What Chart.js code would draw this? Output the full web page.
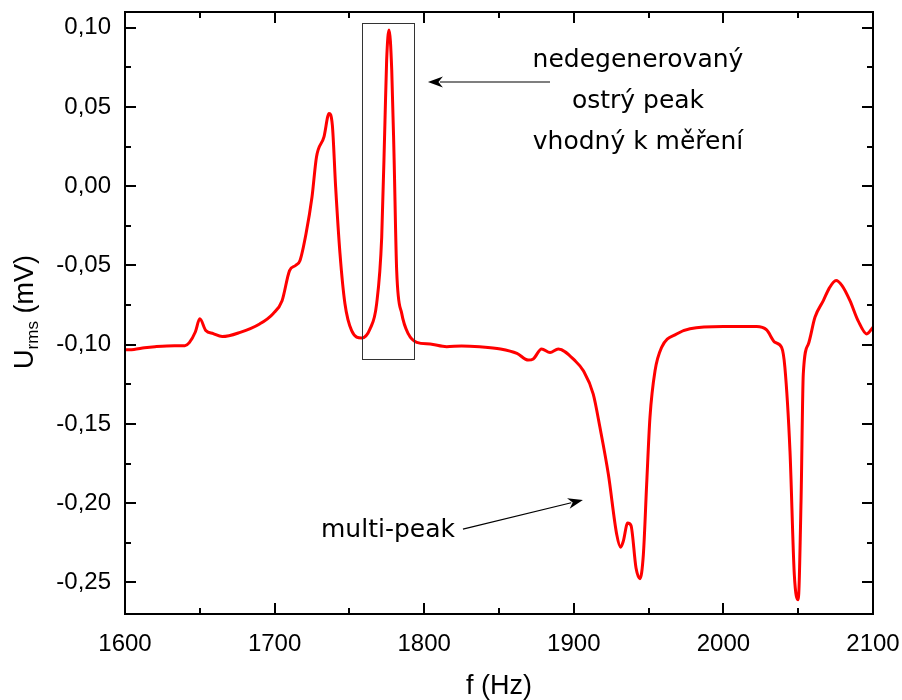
<!DOCTYPE html>
<html>
<head>
<meta charset="utf-8">
<script src="https://cdn.jsdelivr.net/npm/chart.js@4/dist/chart.umd.min.js"></script>
<style>
    body { margin: 0; background: #fff; }
    canvas { display: block; }
</style>
</head>
<body>
<canvas id="resonanceChart" width="902" height="700"></canvas>
<script>
// frekvence (Hz) a napeti U_rms (mV)
const freq = [1600, 1606, 1613, 1620, 1633, 1640, 1643, 1647, 1650, 1654, 1659, 1665, 1677, 1690, 1699, 1705,
    1710, 1714, 1717, 1721, 1725, 1728, 1733, 1736.4, 1738.6, 1740.8, 1743.7, 1747, 1751.5, 1758.2, 1763.8,
    1768.2, 1771.6, 1773.8, 1774.9, 1776.5, 1778.3, 1779.8, 1781.6, 1785, 1789.4, 1795, 1804, 1815, 1825,
    1837, 1851, 1862, 1869.6, 1872.9, 1878.5, 1884.1, 1889.6, 1900.8, 1906.4, 1913, 1917.5, 1923.1, 1928.7,
    1931.3, 1933.1, 1936, 1938.2, 1941.6, 1944.2, 1946.5, 1948.7, 1950.9, 1954.3, 1958.7, 1968.7, 1977.7,
    2000, 2022.2, 2028.9, 2034.4, 2038.9, 2041.1, 2044.5, 2047.4, 2050, 2051.9, 2053.4, 2056.8, 2061.2,
    2066.8, 2070.6, 2075.3, 2079.3, 2084.6, 2090, 2095.8, 2100];
const urms = [-0.1032, -0.1030, -0.1020, -0.1013, -0.1006, -0.1006, -0.0987, -0.0920, -0.0837, -0.0910,
    -0.0930, -0.0949, -0.0922, -0.0869, -0.0804, -0.0722, -0.0532, -0.0500, -0.0468, -0.0300, -0.0068,
    0.0185, 0.0312, 0.0460, 0.0386, -0.0004, -0.0424, -0.0740, -0.0911, -0.0958, -0.0900, -0.0742, -0.0321,
    0.0418, 0.0797, 0.0987, 0.0734, 0.0209, -0.0532, -0.0804, -0.0932, -0.0985, -0.0996, -0.1013, -0.1008,
    -0.1013, -0.1027, -0.1055, -0.1097, -0.1090, -0.1027, -0.1049, -0.1027, -0.1101, -0.1165, -0.1312,
    -0.1523, -0.1818, -0.2198, -0.2278, -0.2240, -0.2125, -0.2140, -0.2410, -0.2477, -0.2325, -0.1882,
    -0.1460, -0.1165, -0.1017, -0.0932, -0.0900, -0.0886, -0.0886, -0.0907, -0.0985, -0.1017, -0.1143,
    -0.1670, -0.2451, -0.2610, -0.1987, -0.1185, -0.0996, -0.0827, -0.0722, -0.0646, -0.0595, -0.0627,
    -0.0722, -0.0848, -0.0932, -0.0890];

const xMajorTicks = [1600, 1700, 1800, 1900, 2000, 2100];
const xMinorTicks = [1650, 1750, 1850, 1950, 2050];
const yMajorTicks = [-0.25, -0.20, -0.15, -0.10, -0.05, 0.00, 0.05, 0.10];
const yMinorTicks = [-0.225, -0.175, -0.125, -0.075, -0.025, 0.025, 0.075];

const xTitle = 'f (Hz)';
const yTitle = ['U', 'rms', ' (mV)'];

// popisky v grafu (souradnice v jednotkach os)
const boxRange = { x1: 1758.4, x2: 1793.2, y1: -0.1091, y2: 0.1030 };
const noteLines = ['nedegenerovaný', 'ostrý peak', 'vhodný k měření'];
const noteAnchor = { x: 1942.9, y: 0.0753 };
const noteArrow = { from: [1884.1, 0.0658], to: [1802.5, 0.0658] };
const multiLabel = 'multi-peak';
const multiAnchor = { x: 1775.8, y: -0.2213 };
const multiArrow = { from: [1825.9, -0.2164], to: [1906.1, -0.1980] };

const sansFamily = '"Liberation Sans", Arial, sans-serif';

function drawArrow(ctx, x1, y1, x2, y2) {
    const ang = Math.atan2(y2 - y1, x2 - x1);
    const len = 15, half = 5.5;
    const c = Math.cos(ang), s = Math.sin(ang);
    ctx.beginPath();
    ctx.moveTo(x1, y1);
    ctx.lineTo(x2 - c * len * 0.8, y2 - s * len * 0.8);
    ctx.stroke();
    ctx.beginPath();
    ctx.moveTo(x2, y2);
    ctx.lineTo(x2 - c * len - s * half, y2 - s * len + c * half);
    ctx.lineTo(x2 - c * len * 0.7, y2 - s * len * 0.7);
    ctx.lineTo(x2 - c * len + s * half, y2 - s * len - c * half);
    ctx.closePath();
    ctx.fill();
}

const framePlugin = {
    id: 'frame',
    afterDraw(chart) {
        const { ctx, chartArea: a, scales: { x, y } } = chart;
        ctx.save();

        // ramecek a ticky na vsech ctyrech stranach (dovnitr)
        ctx.strokeStyle = '#000';
        ctx.lineWidth = 2;
        ctx.strokeRect(a.left, a.top, a.right - a.left, a.bottom - a.top);
        const tickX = (vals, len) => {
            vals.forEach((v) => {
                const px = Math.round(x.getPixelForValue(v));
                ctx.beginPath();
                ctx.moveTo(px, a.bottom); ctx.lineTo(px, a.bottom - len);
                ctx.moveTo(px, a.top); ctx.lineTo(px, a.top + len);
                ctx.stroke();
            });
        };
        const tickY = (vals, len) => {
            vals.forEach((v) => {
                const py = Math.round(y.getPixelForValue(v));
                ctx.beginPath();
                ctx.moveTo(a.left, py); ctx.lineTo(a.left + len, py);
                ctx.moveTo(a.right, py); ctx.lineTo(a.right - len, py);
                ctx.stroke();
            });
        };
        tickX(xMajorTicks, 11); tickX(xMinorTicks, 6);
        tickY(yMajorTicks, 11); tickY(yMinorTicks, 6);

        // obdelnik kolem ostreho piku
        ctx.strokeStyle = '#333';
        ctx.lineWidth = 1;
        const bx1 = x.getPixelForValue(boxRange.x1), bx2 = x.getPixelForValue(boxRange.x2);
        const by1 = y.getPixelForValue(boxRange.y2), by2 = y.getPixelForValue(boxRange.y1);
        ctx.strokeRect(Math.round(bx1) + 0.5, Math.round(by1) + 0.5, Math.round(bx2 - bx1), Math.round(by2 - by1));

        // sipky
        ctx.strokeStyle = '#000';
        ctx.fillStyle = '#000';
        ctx.lineWidth = 1.2;
        drawArrow(ctx, x.getPixelForValue(noteArrow.from[0]), y.getPixelForValue(noteArrow.from[1]),
            x.getPixelForValue(noteArrow.to[0]), y.getPixelForValue(noteArrow.to[1]));
        drawArrow(ctx, x.getPixelForValue(multiArrow.from[0]), y.getPixelForValue(multiArrow.from[1]),
            x.getPixelForValue(multiArrow.to[0]), y.getPixelForValue(multiArrow.to[1]));

        // texty
        ctx.font = '25px "DejaVu Sans", sans-serif';
        ctx.textAlign = 'center';
        ctx.textBaseline = 'alphabetic';
        const nx = x.getPixelForValue(noteAnchor.x), ny = y.getPixelForValue(noteAnchor.y);
        noteLines.forEach((t, i) => ctx.fillText(t, nx, ny + i * 41));
        ctx.fillText(multiLabel, x.getPixelForValue(multiAnchor.x), y.getPixelForValue(multiAnchor.y));

        // popisky os
        ctx.font = '27px ' + sansFamily;
        ctx.fillText(xTitle, (a.left + a.right) / 2, 694);

        ctx.translate(33, 312);
        ctx.rotate(-Math.PI / 2);
        const w0 = ctx.measureText(yTitle[0]).width;
        ctx.font = '17px ' + sansFamily;
        const w1 = ctx.measureText(yTitle[1]).width;
        ctx.font = '27px ' + sansFamily;
        const w2 = ctx.measureText(yTitle[2]).width;
        let sx = -(w0 + w1 + w2) / 2;
        ctx.textAlign = 'left';
        ctx.fillText(yTitle[0], sx, 0);
        sx += w0;
        ctx.font = '17px ' + sansFamily;
        ctx.fillText(yTitle[1], sx, 5);
        sx += w1;
        ctx.font = '27px ' + sansFamily;
        ctx.fillText(yTitle[2], sx, 0);

        ctx.restore();
    }
};

const noPadding = (s) => { s.paddingTop = 0; s.paddingBottom = 0; s.paddingLeft = 0; s.paddingRight = 0; };

new Chart(document.getElementById('resonanceChart').getContext('2d'), {
    type: 'line',
    data: {
        datasets: [{
            data: freq.map((f, i) => ({ x: f, y: urms[i] })),
            borderColor: '#ff0000',
            borderWidth: 3,
            pointRadius: 0,
            cubicInterpolationMode: 'monotone',
            fill: false
        }]
    },
    options: {
        responsive: false,
        animation: false,
        devicePixelRatio: 1,
        layout: { padding: { top: 12, right: 29, left: 0, bottom: 0 } },
        plugins: { legend: { display: false }, tooltip: { enabled: false } },
        scales: {
            x: {
                type: 'linear',
                min: 1600,
                max: 2100,
                grid: { display: false, drawTicks: false },
                border: { display: false },
                afterBuildTicks: (s) => { s.ticks = xMajorTicks.map((v) => ({ value: v })); },
                afterFit: (s) => { s.height = 86; noPadding(s); },
                ticks: { font: { family: sansFamily, size: 24 }, color: '#000', padding: 16, maxRotation: 0, callback: (v) => String(v) }
            },
            y: {
                min: -0.27,
                max: 0.11,
                grid: { display: false, drawTicks: false },
                border: { display: false },
                afterBuildTicks: (s) => { s.ticks = yMajorTicks.map((v) => ({ value: v })); },
                afterFit: (s) => { s.width = 125; noPadding(s); },
                ticks: { font: { family: sansFamily, size: 24 }, color: '#000', padding: 14, callback: (v) => v.toFixed(2).replace('.', ',') }
            }
        }
    },
    plugins: [framePlugin]
});
</script>
</body>
</html>
